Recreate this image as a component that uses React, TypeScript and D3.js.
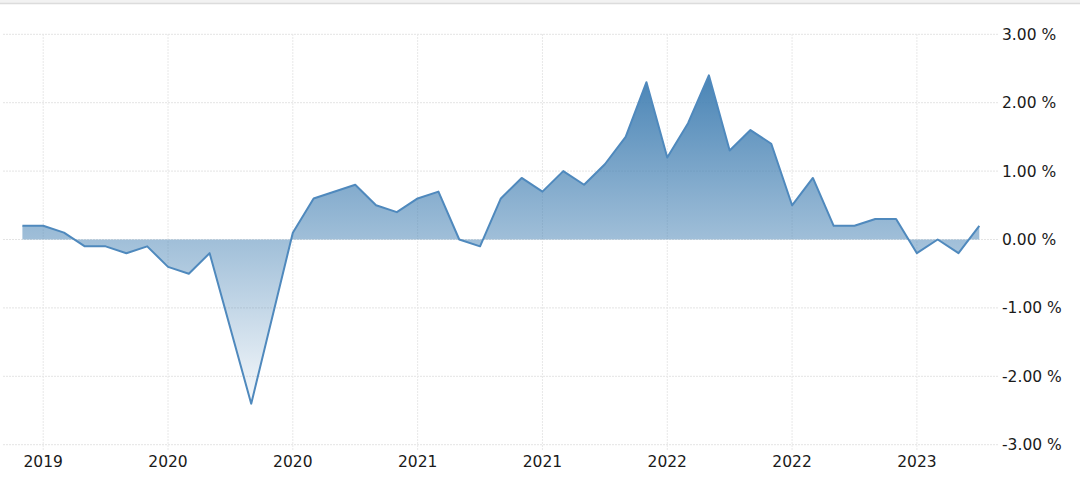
import React from "react";
import * as d3 from "d3";

// Observed monthly points (month label, value in %)
const months: string[] = [
  "2019-06", "2019-07", "2019-08", "2019-09", "2019-10", "2019-11", "2019-12",
  "2020-01", "2020-02", "2020-03", "2020-05", "2020-07", "2020-08", "2020-10",
  "2020-11", "2020-12", "2021-01", "2021-02", "2021-03", "2021-04", "2021-05",
  "2021-06", "2021-07", "2021-08", "2021-09", "2021-10", "2021-11", "2021-12",
  "2022-01", "2022-02", "2022-03", "2022-04", "2022-05", "2022-06", "2022-07",
  "2022-08", "2022-09", "2022-10", "2022-11", "2022-12", "2023-01", "2023-02",
  "2023-03", "2023-04",
];
const values: number[] = [
  0.2, 0.2, 0.1, -0.1, -0.1, -0.2, -0.1,
  -0.4, -0.5, -0.2, -2.4, 0.1, 0.6, 0.8,
  0.5, 0.4, 0.6, 0.7, 0.0, -0.1, 0.6,
  0.9, 0.7, 1.0, 0.8, 1.1, 1.5, 2.3,
  1.2, 1.7, 2.4, 1.3, 1.6, 1.4, 0.5,
  0.9, 0.2, 0.2, 0.3, 0.3, -0.2, 0.0,
  -0.2, 0.2,
];
const xTickMonths: string[] = ["2019-07", "2020-01", "2020-07", "2021-01", "2021-07", "2022-01", "2022-07", "2023-01"];
const xTickLabels: string[] = ["2019", "2020", "2020", "2021", "2021", "2022", "2022", "2023"];
const yTicks: number[] = [3, 2, 1, 0, -1, -2, -3];

const W = 1080;
const H = 495;

const monthIndex = (m: string) => {
  const [y, mo] = m.split("-").map(Number);
  return (y - 2019) * 12 + (mo - 6);
};

export default function App() {
  const x = d3.scaleLinear().domain([0, 46]).range([22.4, 979.3]);
  const y = d3.scaleLinear().domain([-3, 3]).range([444.7, 34.3]);
  const data = months.map((m, i) => ({ i: monthIndex(m), v: values[i] }));

  const area = d3
    .area<{ i: number; v: number }>()
    .x((d) => x(d.i))
    .y0(y(0))
    .y1((d) => y(d.v));
  const line = d3
    .line<{ i: number; v: number }>()
    .x((d) => x(d.i))
    .y((d) => y(d.v));

  const font = "'DejaVu Sans', Verdana, sans-serif";

  return (
    <svg
      width={W}
      height={H}
      style={{ position: "absolute", left: 0, top: 0, display: "block", background: "#fff" }}
    >
      <defs>
        <linearGradient id="fillGrad" gradientUnits="userSpaceOnUse" x1={0} x2={0} y1={y(2.4)} y2={y(-2.4)}>
          <stop offset="0" stopColor="#4682b4" stopOpacity={0.98} />
          <stop offset="1" stopColor="#4682b4" stopOpacity={0.05} />
        </linearGradient>
      </defs>
      <rect x={0} y={0} width={W} height={H} fill="#fff" />
      <rect x={0} y={0} width={W} height={3} fill="#f2f2f2" />
      <line x1={0} x2={W} y1={3.5} y2={3.5} stroke="#dcdcdc" strokeWidth={1.5} />

      {yTicks.map((t) => (
        <line
          key={"gy" + t}
          x1={3}
          x2={998}
          y1={y(t)}
          y2={y(t)}
          stroke="#e4e4e4"
          strokeWidth={1}
          strokeDasharray="2,1"
        />
      ))}
      {xTickMonths.map((m) => (
        <line
          key={"gx" + m}
          x1={x(monthIndex(m))}
          x2={x(monthIndex(m))}
          y1={34}
          y2={450}
          stroke="#e8e8e8"
          strokeWidth={1}
          strokeDasharray="2,1"
        />
      ))}

      <path d={area(data) || ""} fill="url(#fillGrad)" />
      <path d={line(data) || ""} fill="none" stroke="#4f89bd" strokeWidth={2} strokeLinejoin="round" />

      {yTicks.map((t) => (
        <text
          key={"ly" + t}
          x={1002}
          y={y(t)}
          dy="0.35em"
          fontFamily={font}
          fontSize={15.5}
          fill="#1a1a1a"
        >
          {t.toFixed(2) + " %"}
        </text>
      ))}
      {xTickMonths.map((m, k) => (
        <text
          key={"lx" + m + k}
          x={x(monthIndex(m))}
          y={467}
          textAnchor="middle"
          fontFamily={font}
          fontSize={15.5}
          fill="#1a1a1a"
        >
          {xTickLabels[k]}
        </text>
      ))}
    </svg>
  );
}
